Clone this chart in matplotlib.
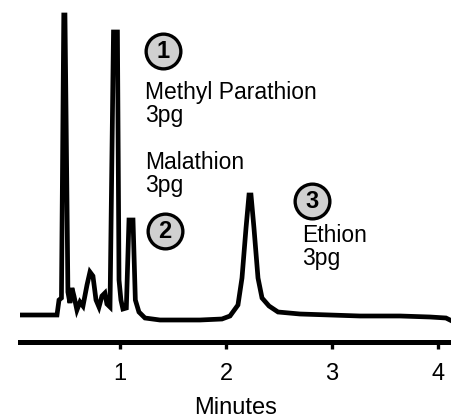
import matplotlib
matplotlib.use("Agg")
from matplotlib import pyplot as plt

plt.rcParams['font.family'] = ['Liberation Sans', 'DejaVu Sans']

# chromatogram trace (minutes, detector response)
time_min = [0.057, 0.406, 0.425, 0.448, 0.470, 0.481, 0.491, 0.500, 0.509, 0.528,
            0.547, 0.566, 0.594, 0.623, 0.651, 0.689, 0.717, 0.745, 0.774, 0.802,
            0.830, 0.858, 0.877, 0.906, 0.939, 0.976, 0.991, 1.009, 1.028, 1.060,
            1.085, 1.123, 1.145, 1.179, 1.236, 1.377, 1.755, 1.962, 2.038, 2.113,
            2.151, 2.189, 2.217, 2.236, 2.264, 2.302, 2.340, 2.406, 2.491, 2.698,
            2.981, 3.264, 3.642, 3.925, 4.075, 4.113]
response = [0, 0, 15, 17, 300, 300, 205, 115, 23, 12,
            27, 19, 5, 13, 9, 30, 43, 39, 15, 8,
            19, 22, 11, 8, 283, 283, 35, 15, 6, 7,
            95, 95, 15, 3, -3, -5, -5, -4, -1, 10,
            37, 87, 120, 120, 87, 37, 17, 9, 3, 1,
            0, -1, -1, -2, -3, -5]

xticks = [1, 2, 3, 4]
peak_numbers = ["1", "2", "3"]
peak_names = ["Methyl Parathion\n3pg", "Malathion\n3pg", "Ethion\n3pg"]

fig = plt.figure(figsize=(4.52, 4.18), dpi=100)
ax = fig.add_axes([20 / 452, 76 / 418, 432 / 452, 342 / 418])

ax.plot(time_min, response, color="black", lw=3.4, solid_joinstyle="miter")

ax.set_xlim(0.057, 4.132)
ax.set_ylim(-27, 315)

for s in ["top", "left", "right"]:
    ax.spines[s].set_visible(False)
ax.spines["bottom"].set_linewidth(3.6)
ax.set_yticks([])
ax.set_xticks(xticks)
ax.tick_params(axis="x", direction="out", length=5, width=2.4, pad=10, labelsize=17)
ax.set_xlabel("Minutes", fontsize=17, labelpad=9)

# numbered circles
circle_pos = [(1.41, 264), (1.425, 84), (2.81, 114)]
for (cx, cy), num in zip(circle_pos, peak_numbers):
    ax.plot(cx, cy, marker="o", markersize=25, markerfacecolor="#d0d0d0",
            markeredgecolor="black", markeredgewidth=2.4, clip_on=False)
    ax.text(cx, cy - 1, num, ha="center", va="center", fontsize=17,
            fontweight="bold")

label_pos = [(1.236, 234), (1.236, 164), (2.717, 91)]
for (lx, ly), name in zip(label_pos, peak_names):
    ax.text(lx, ly, name, ha="left", va="top", fontsize=16.5, linespacing=1.02)

fig.savefig("out.png", dpi=100)
